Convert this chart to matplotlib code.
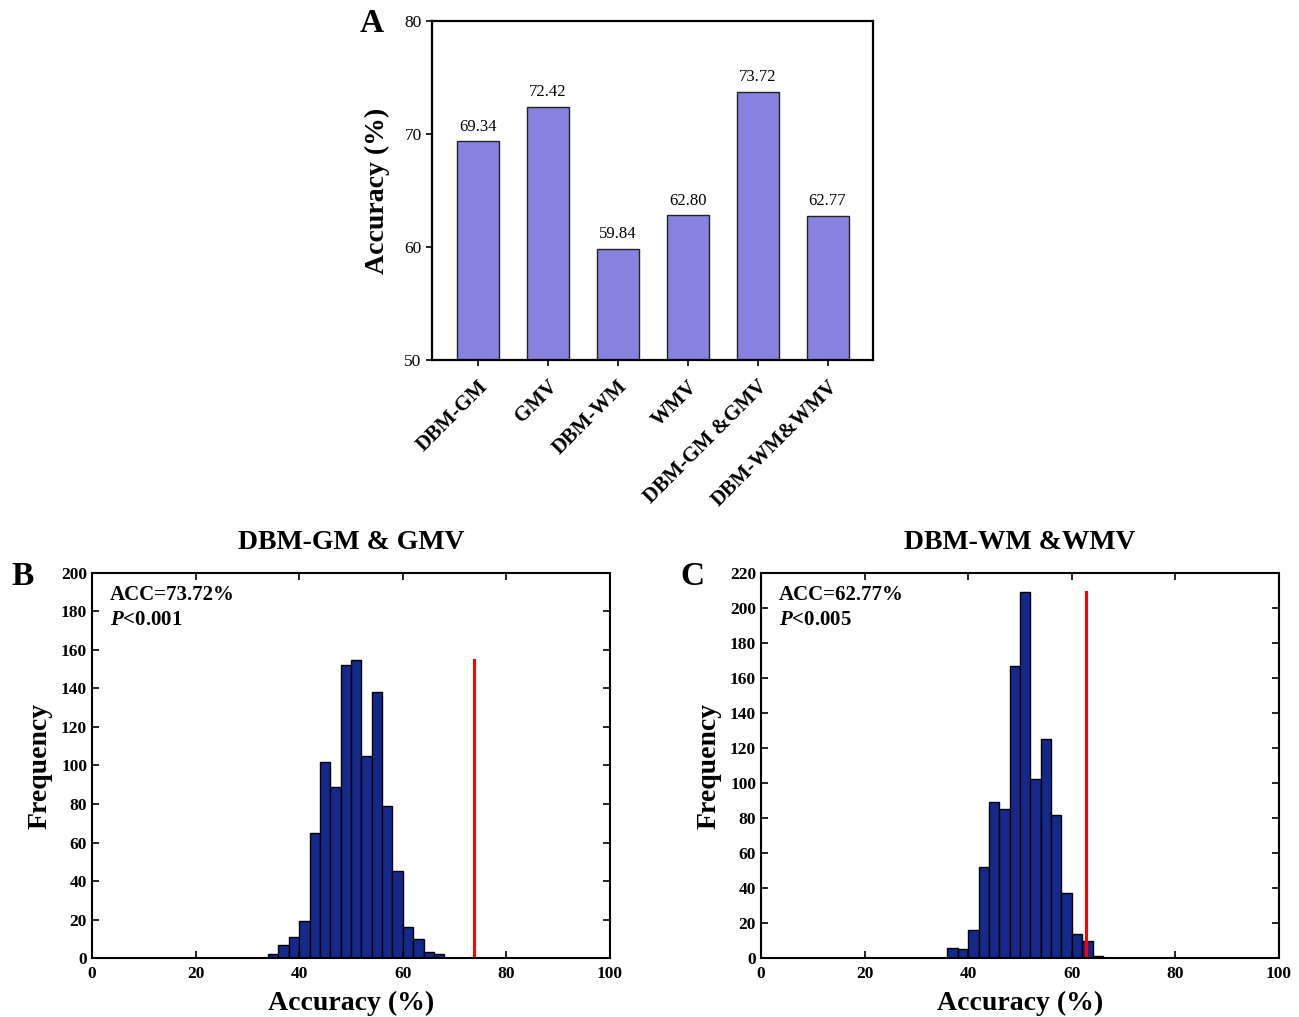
#!/usr/bin/env python3

"""
Classification accuracy of the feature sets (A) and the permutation
test histograms for the two combined feature sets (B, C).
"""

import matplotlib
matplotlib.use("Agg")
import matplotlib.pyplot as plt
import numpy as np

plt.rcParams["font.family"] = "Liberation Serif"
plt.rcParams["mathtext.fontset"] = "custom"
plt.rcParams["mathtext.it"] = "Liberation Serif:italic:bold"
plt.rcParams["mathtext.rm"] = "Liberation Serif:bold"

# panel A
feature_sets = ["DBM-GM", "GMV", "DBM-WM", "WMV", "DBM-GM &GMV", "DBM-WM&WMV"]
accuracy = [69.34, 72.42, 59.84, 62.80, 73.72, 62.77]

# panel B: permutation accuracies, DBM-GM & GMV
edges_gm = [34, 36, 38, 40, 42, 44, 46, 48, 50, 52, 54, 56, 58, 60, 62, 64, 66, 68]
counts_gm = [2, 7, 11, 19, 65, 102, 89, 152, 155, 105, 138, 79, 45, 16, 10, 3, 2]
acc_gm = 73.72
p_gm = "<0.001"

# panel C: permutation accuracies, DBM-WM & WMV
edges_wm = [36, 38, 40, 42, 44, 46, 48, 50, 52, 54, 56, 58, 60, 62, 64, 66]
counts_wm = [6, 5, 16, 52, 89, 85, 167, 209, 102, 125, 82, 37, 14, 10, 1]
acc_wm = 62.77
p_wm = "<0.005"

BAR_A = "#8782e0"
BAR_H = "#15298a"


def plot_hist(ax, edges, counts, acc, pval, title, ymax, ystep):
    edges = np.asarray(edges, dtype=float)
    ax.bar(edges[:-1], counts, width=np.diff(edges), align="edge",
           color=BAR_H, edgecolor="black", linewidth=1.0)
    ax.plot([acc, acc], [0, max(counts)], color="red", lw=2.2)
    ax.set_xlim(0, 100)
    ax.set_ylim(0, ymax)
    ax.set_xticks(np.arange(0, 101, 20))
    ax.set_yticks(np.arange(0, ymax + 1, ystep))
    ax.tick_params(direction="in", top=True, right=True, length=5,
                   width=1.2, labelsize=12.5)
    ax.tick_params(axis="x", pad=6)
    for lab in ax.get_xticklabels() + ax.get_yticklabels():
        lab.set_fontweight("bold")
    for s in ax.spines.values():
        s.set_linewidth(1.5)
    ax.set_xlabel("Accuracy (%)", fontsize=20, fontweight="bold", labelpad=6)
    ax.set_ylabel("Frequency", fontsize=20, fontweight="bold", labelpad=6)
    ax.set_title(title, fontsize=20, fontweight="bold", pad=17)
    ax.text(0.035, 0.97, "ACC=%.2f%%" % acc, transform=ax.transAxes,
            fontsize=15, fontweight="bold", va="top", ha="left")
    ax.text(0.035, 0.905, r"$P$" + pval, transform=ax.transAxes,
            fontsize=15, fontweight="bold", va="top", ha="left")


def main():
    fig = plt.figure(figsize=(12.99, 10.17), dpi=100)

    # ---- A ----
    axA = fig.add_axes([0.3326, 0.646, 0.3395, 0.3333])
    x = np.arange(1, len(accuracy) + 1)
    axA.bar(x, accuracy, width=0.6, color=BAR_A, edgecolor="#222222",
            linewidth=1.0, bottom=0)
    for xi, v in zip(x, accuracy):
        axA.text(xi, v + 0.6, "%.2f" % v, ha="center", va="bottom",
                 fontsize=12)
    axA.set_xlim(0.35, 6.65)
    axA.set_ylim(50, 80)
    axA.set_yticks([50, 60, 70, 80])
    axA.set_xticks(x)
    axA.set_xticklabels(feature_sets, rotation=45, ha="right",
                        rotation_mode="anchor", fontsize=15,
                        fontweight="bold")
    axA.tick_params(axis="y", direction="out", length=4, width=1.2,
                    labelsize=12.5)
    axA.tick_params(axis="x", direction="out", length=4, width=1.2, pad=8)
    for s in axA.spines.values():
        s.set_linewidth(1.6)
    axA.set_ylabel("Accuracy (%)", fontsize=20, fontweight="bold",
                   labelpad=10)
    fig.text(0.2864, 0.977, "A", fontsize=24, fontweight="bold",
             ha="center", va="center")

    # ---- B ----
    axB = fig.add_axes([0.0708, 0.058, 0.3988, 0.3786])
    plot_hist(axB, edges_gm, counts_gm, acc_gm, p_gm, "DBM-GM & GMV",
              200, 20)
    fig.text(0.017, 0.433, "B", fontsize=24, fontweight="bold",
             ha="center", va="center")

    # ---- C ----
    axC = fig.add_axes([0.5858, 0.058, 0.3988, 0.3786])
    plot_hist(axC, edges_wm, counts_wm, acc_wm, p_wm, "DBM-WM &WMV",
              220, 20)
    fig.text(0.533, 0.433, "C", fontsize=24, fontweight="bold",
             ha="center", va="center")

    fig.savefig("out.png", dpi=100)


if __name__ == "__main__":
    main()
